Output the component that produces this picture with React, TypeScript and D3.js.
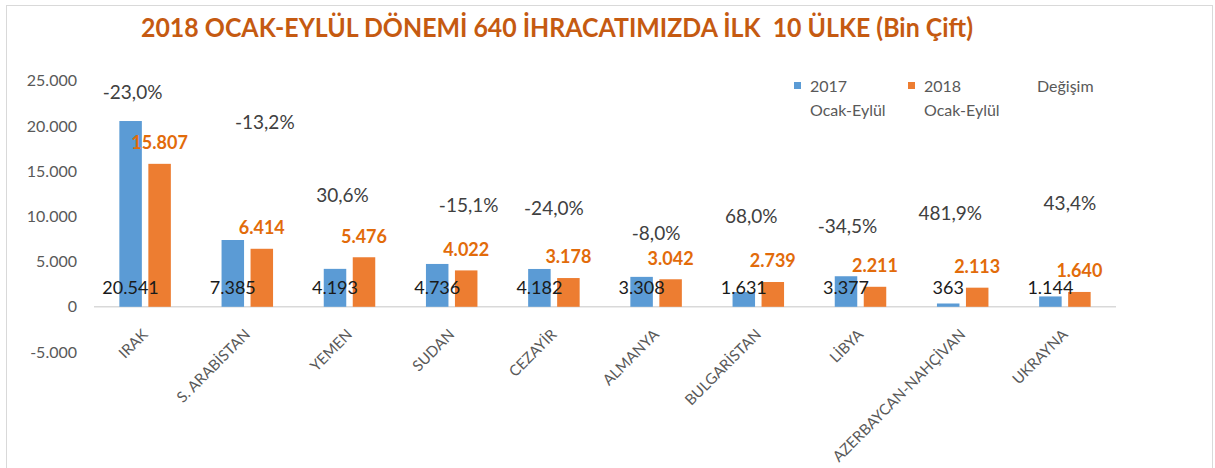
import React from "react";
import * as d3 from "d3";

const countries = [
  "IRAK",
  "S. ARABİSTAN",
  "YEMEN",
  "SUDAN",
  "CEZAYİR",
  "ALMANYA",
  "BULGARİSTAN",
  "LİBYA",
  "AZERBAYCAN-NAHÇİVAN",
  "UKRAYNA",
];
const values2017 = [20541, 7385, 4193, 4736, 4182, 3308, 1631, 3377, 363, 1144];
const values2018 = [15807, 6414, 5476, 4022, 3178, 3042, 2739, 2211, 2113, 1640];
const changePct = [-23.0, -13.2, 30.6, -15.1, -24.0, -8.0, 68.0, -34.5, 481.9, 43.4];
const yTicks = [-5000, 0, 5000, 10000, 15000, 20000, 25000];
const seriesNames = ["2017", "2018"];
const legendLabels = [
  ["2017", "Ocak-Eylül"],
  ["2018", "Ocak-Eylül"],
  ["Değişim", ""],
];
const title = "2018 OCAK-EYLÜL DÖNEMİ 640 İHRACATIMIZDA İLK  10 ÜLKE (Bin Çift)";

// manual placement of the "Değişim" labels (hand-dragged in the original), axis units + px offset
const changeLabelLevel = [23750, 20400, 12350, 11250, 10900, 8150, 10050, 8850, 10350, 11450];
const changeLabelDx = [-12.5, 17.5, -7, 17, 0, 0, -7, -13, -12.5, 5];

const W = 1215;
const H = 468;
const FONT = "Lato, 'Open Sans', sans-serif";
const BLUE = "#5B9BD5";
const ORANGE = "#ED7D31";
const GRAY = "#595959";

const trLocale = d3.formatLocale({
  decimal: ",",
  thousands: ".",
  grouping: [3],
  currency: ["", "₺"],
  minus: "-",
});
const fmtInt = trLocale.format(",d");
const fmtPct = (v: number) => trLocale.format(".1f")(v) + "%";

export default function App() {
  const x = d3.scaleBand<string>().domain(countries).range([94, 1116]);
  const x1 = d3
    .scaleBand<string>()
    .domain(seriesNames)
    .range([-25.75, 25.75])
    .paddingInner(0.224);
  const y = d3.scaleLinear().domain([-5000, 25000]).range([352, 80.7]);
  const cx = (c: string) => (x(c) as number) + x.bandwidth() / 2;
  const bw = x1.bandwidth();
  const y0 = y(0);

  return (
    <svg
      width={W}
      height={H}
      style={{ position: "absolute", left: 0, top: 0, background: "#fff" }}
      fontFamily={FONT}
    >
      <rect x={0} y={0} width={W} height={H} fill="#fff" />
      <rect x={6.5} y={5.5} width={1206} height={480} fill="#fff" stroke="#D9D9D9" strokeWidth={1} />

      <text
        x={141}
        y={37}
        fontSize={26}
        fontWeight="bold"
        fill="#C55A11"
        textLength={832}
        lengthAdjust="spacingAndGlyphs"
        style={{ whiteSpace: "pre" }}
      >
        {title}
      </text>

      {/* y axis labels */}
      {yTicks.map((t) => (
        <text key={t} x={77} y={y(t)} dy="0.35em" textAnchor="end" fontSize={16} fill={GRAY}>
          {fmtInt(t)}
        </text>
      ))}

      {/* zero line */}
      <line x1={94} x2={1116} y1={y0} y2={y0} stroke="#D9D9D9" strokeWidth={1.5} />

      {/* bars */}
      {countries.map((c, i) => {
        const c0 = cx(c);
        const bx17 = c0 + (x1("2017") as number);
        const bx18 = c0 + (x1("2018") as number);
        return (
          <g key={c}>
            <rect x={bx17} y={y(values2017[i])} width={bw} height={y0 - y(values2017[i])} fill={BLUE} />
            <rect x={bx18} y={y(values2018[i])} width={bw} height={y0 - y(values2018[i])} fill={ORANGE} />
          </g>
        );
      })}

      {/* labels */}
      {countries.map((c, i) => {
        const c0 = cx(c);
        const bx17 = c0 + (x1("2017") as number);
        const bx18 = c0 + (x1("2018") as number);
        return (
          <g key={"l" + c}>
            <text x={bx17 + bw / 2} y={y0 - 19} dy="0.35em" textAnchor="middle" fontSize={18} fill="#1a1a1a">
              {fmtInt(values2017[i])}
            </text>
            <text
              x={bx18 + bw / 2}
              y={y(values2018[i]) - 21}
              dy="0.35em"
              textAnchor="middle"
              fontSize={18}
              fontWeight="bold"
              fill="#E26B0A"
            >
              {fmtInt(values2018[i])}
            </text>
            <text
              x={c0 + changeLabelDx[i]}
              y={y(changeLabelLevel[i])}
              dy="0.35em"
              textAnchor="middle"
              fontSize={19}
              fill="#404040"
            >
              {fmtPct(changePct[i])}
            </text>
          </g>
        );
      })}

      {/* x axis labels */}
      {countries.map((c) => (
        <text
          key={"x" + c}
          transform={`translate(${cx(c)},${y0 + 25}) rotate(-45)`}
          dy="0.35em"
          textAnchor="end"
          fontSize={15}
          fill={GRAY}
        >
          {c}
        </text>
      ))}

      {/* legend */}
      {legendLabels.map((lab, i) => {
        const lx = [794, 908, 1037][i];
        return (
          <g key={"lg" + i}>
            {i < 2 && <rect x={lx} y={82} width={7} height={7} fill={i === 0 ? BLUE : ORANGE} />}
            <text x={i < 2 ? lx + 16 : lx} y={86} dy="0.35em" fontSize={16} fill={GRAY}>
              {lab[0]}
            </text>
            {lab[1] && (
              <text x={lx + 16} y={110} dy="0.35em" fontSize={16} fill={GRAY}>
                {lab[1]}
              </text>
            )}
          </g>
        );
      })}
    </svg>
  );
}
